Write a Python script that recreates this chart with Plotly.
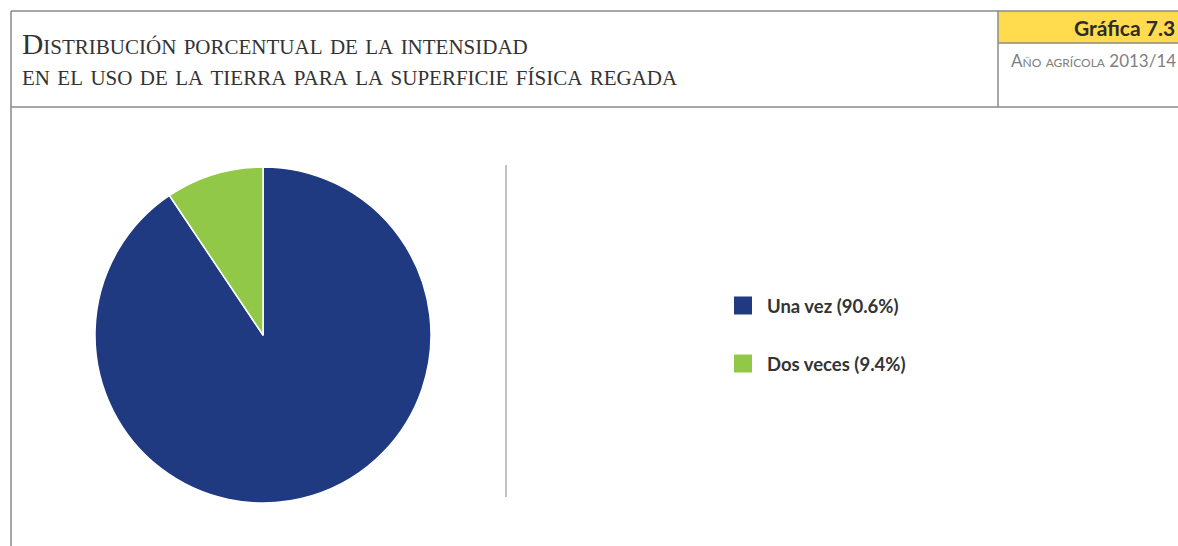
import plotly.graph_objects as go

W, H = 1178, 546

labels = ["Una vez", "Dos veces"]
values = [90.6, 9.4]
colors = ["#1F3A80", "#92C848"]

title_lines = ["Distribución porcentual de la intensidad",
               "en el uso de la tierra para la superficie física regada"]
badge_text = "Gráfica 7.3"
subtitle_text = "Año agrícola 2013/14"

def px_x(x):
    return x / W

def px_y(y):
    return 1 - y / H

fig = go.Figure()
fig.add_trace(go.Pie(
    labels=labels, values=values, sort=False, direction="clockwise", rotation=0,
    marker=dict(colors=colors, line=dict(color="white", width=1.5)),
    textinfo="none", hoverinfo="label+percent", showlegend=False,
    domain=dict(x=[px_x(95), px_x(431)], y=[px_y(503), px_y(167)]),
))

shapes = []
line = dict(color="#8a8a8a", width=1.5)
shapes.append(dict(type="rect", xref="paper", yref="paper", x0=px_x(998), x1=1, y0=px_y(43), y1=px_y(11),
                   fillcolor="#FFDB4D", line=dict(width=0), layer="below"))
for (x0, y0, x1, y1) in [(11, 11, 1178, 11), (11, 11, 11, 546), (11, 107, 1178, 107),
                         (998, 11, 998, 107), (998, 43, 1178, 43)]:
    shapes.append(dict(type="line", xref="paper", yref="paper", x0=px_x(x0), x1=px_x(x1),
                       y0=px_y(y0), y1=px_y(y1), line=line))
shapes.append(dict(type="line", xref="paper", yref="paper", x0=px_x(506), x1=px_x(506),
                   y0=px_y(165), y1=px_y(497), line=dict(color="#999999", width=1.2)))

annotations = []
for i, t in enumerate(title_lines):
    annotations.append(dict(text=t, xref="paper", yref="paper", x=px_x(20), y=px_y(44 + i * 31),
                            xanchor="left", yanchor="middle", showarrow=False,
                            font=dict(family="Liberation Serif", size=29.5, color="#333333", variant="small-caps")))
annotations.append(dict(text="<b>" + badge_text + "</b>", xref="paper", yref="paper", x=px_x(1177), y=px_y(27),
                        xanchor="right", yanchor="middle", showarrow=False,
                        font=dict(family="Lato", size=21, color="#2b2b2b")))
annotations.append(dict(text=subtitle_text, xref="paper", yref="paper", x=px_x(1009), y=px_y(60),
                        xanchor="left", yanchor="middle", showarrow=False,
                        font=dict(family="Lato", size=17, color="#808080", variant="small-caps")))

for i, (lab, val, col) in enumerate(zip(labels, values, colors)):
    yc = 305.5 + i * 58
    shapes.append(dict(type="rect", xref="paper", yref="paper", x0=px_x(734), x1=px_x(752),
                       y0=px_y(yc + 9), y1=px_y(yc - 9), fillcolor=col, line=dict(width=0)))
    annotations.append(dict(text=f"<b>{lab} ({val}%)</b>", xref="paper", yref="paper",
                            x=px_x(765), y=px_y(yc), xanchor="left", yanchor="middle", showarrow=False,
                            font=dict(family="Lato", size=18.5, color="#333333")))

fig.update_layout(width=W, height=H, margin=dict(l=0, r=0, t=0, b=0),
                  paper_bgcolor="white", plot_bgcolor="white",
                  shapes=shapes, annotations=annotations)
fig.write_html("out.html", config={"displayModeBar": False},
               post_script="document.body.style.margin='0';document.body.style.overflow='hidden';")
